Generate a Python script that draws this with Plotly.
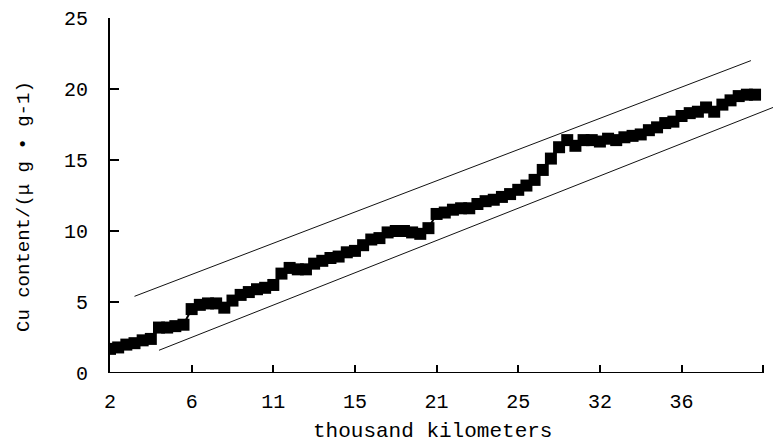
import plotly.graph_objects as go

# category index (0..79); tick labels every 10 categories (thousand km)
cu_content = [
    1.7, 1.8, 2.0, 2.1, 2.3, 2.4, 3.2, 3.2, 3.3, 3.4,
    4.5, 4.8, 4.9, 4.9, 4.6, 5.1, 5.5, 5.7, 5.9, 6.0,
    6.2, 7.0, 7.4, 7.3, 7.3, 7.7, 7.9, 8.1, 8.2, 8.5,
    8.6, 9.0, 9.4, 9.5, 9.9, 10.0, 10.0, 9.9, 9.8, 10.2,
    11.2, 11.3, 11.5, 11.6, 11.6, 11.9, 12.1, 12.2, 12.4, 12.6,
    12.9, 13.2, 13.6, 14.3, 15.1, 15.9, 16.4, 16.0, 16.4, 16.4,
    16.3, 16.5, 16.4, 16.6, 16.7, 16.8, 17.1, 17.3, 17.6, 17.7,
    18.1, 18.3, 18.4, 18.7, 18.4, 18.9, 19.2, 19.5, 19.6, 19.6,
]
x_index = list(range(len(cu_content)))

tick_positions = [0, 10, 20, 30, 40, 50, 60, 70, 80]
tick_labels = ["2", "6", "11", "15", "21", "25", "32", "36", ""]

upper_x = [3.0, 78.5]
upper_y = [5.4, 22.0]
lower_x = [6.0, 81.2]
lower_y = [1.6, 18.7]

FONT = "Liberation Mono"

fig = go.Figure()
fig.add_trace(go.Scatter(x=upper_x, y=upper_y, mode="lines",
                         line=dict(color="#111", width=1), showlegend=False))
fig.add_trace(go.Scatter(x=lower_x, y=lower_y, mode="lines",
                         line=dict(color="#111", width=1), showlegend=False))
fig.add_trace(go.Scatter(x=x_index, y=cu_content, mode="lines+markers",
                         line=dict(color="black", width=2),
                         marker=dict(symbol="square", size=12, color="black"),
                         showlegend=False))

fig.update_layout(
    width=774, height=445,
    margin=dict(l=110, r=1, t=18, b=72),
    paper_bgcolor="white", plot_bgcolor="white",
    font=dict(family=FONT, size=20, color="black"),
    xaxis=dict(range=[0, 81.2], showgrid=False, zeroline=False, showline=False,
               tickmode="array", tickvals=tick_positions, ticktext=tick_labels,
               ticks="inside", ticklen=8, tickwidth=2, tickcolor="black",
               ticklabelstandoff=14, tickfont=dict(family=FONT, size=20)),
    yaxis=dict(range=[0, 25], showgrid=False, zeroline=False, showline=True,
               linecolor="black", linewidth=2,
               tickvals=[0, 5, 10, 15, 20, 25],
               ticks="inside", ticklen=9, tickwidth=2, tickcolor="black",
               ticklabelstandoff=16, tickfont=dict(family=FONT, size=20)),
    shapes=[dict(type="line", xref="x", yref="y", x0=0, x1=80, y0=0, y1=0,
                 line=dict(color="black", width=2))],
    annotations=[
        dict(text="Cu content/(μ g • g-1)", xref="paper", yref="paper",
             x=-0.1297, y=0.4676, xanchor="center", yanchor="middle",
             textangle=-90, showarrow=False, font=dict(family=FONT, size=19)),
        dict(text="thousand kilometers", xref="paper", yref="paper",
             x=0.487, y=-0.166, xanchor="center", yanchor="middle",
             showarrow=False, font=dict(family=FONT, size=21)),
    ],
)

fig.write_html("out.html")
